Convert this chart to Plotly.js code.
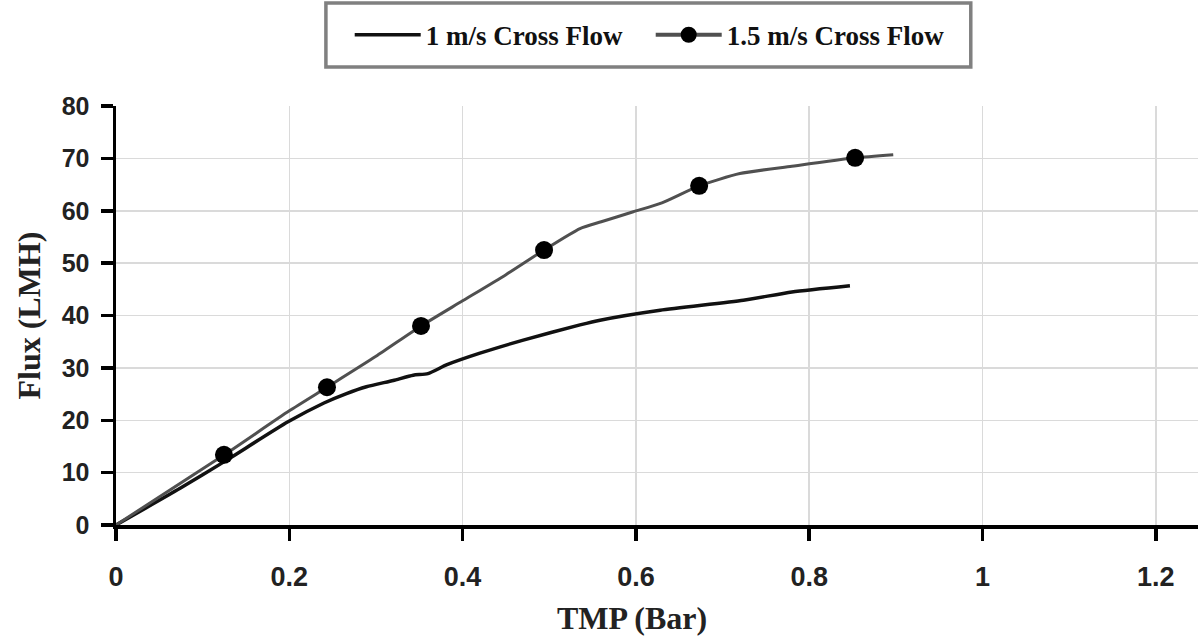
<!DOCTYPE html>
<html>
<head>
<meta charset="utf-8">
<script src="https://cdn.plot.ly/plotly-3.0.1.min.js"></script>
<style>html,body{margin:0;padding:0;background:#fff;}#chart{width:1198px;height:636px;}</style>
</head>
<body>
<div id="chart"></div>
<script>
// 1 m/s cross flow (continuous curve)
const tmp1 = [0, 0.074, 0.125, 0.1985, 0.24, 0.266, 0.289, 0.32, 0.343, 0.36, 0.382, 0.42, 0.47, 0.5355, 0.5586, 0.628, 0.724, 0.78, 0.847];
const flux1 = [0, 7.0, 12.1, 19.7, 23.3, 25.1, 26.4, 27.6, 28.6, 28.9, 30.6, 32.8, 35.3, 38.2, 39.1, 41.0, 42.9, 44.5, 45.7];

// 1.5 m/s cross flow (continuous curve)
const tmp15 = [0, 0.125, 0.2, 0.2435, 0.3, 0.352, 0.40, 0.45, 0.494, 0.5355, 0.56, 0.597, 0.63, 0.673, 0.72, 0.78, 0.853, 0.897];
const flux15 = [0, 13.4, 21.8, 26.3, 32.2, 38.0, 42.8, 47.8, 52.5, 56.6, 57.9, 59.8, 61.5, 64.75, 67.1, 68.5, 70.1, 70.7];

// 1.5 m/s cross flow measured points (markers)
const tmp15Pts = [0.1246, 0.2435, 0.352, 0.494, 0.673, 0.853];
const flux15Pts = [13.4, 26.3, 38.0, 52.5, 64.75, 70.1];

const seriesNames = ["1 m/s Cross Flow", "1.5 m/s Cross Flow"];
const xTicks = [0, 0.2, 0.4, 0.6, 0.8, 1, 1.2];
const xTickText = ["0", "0.2", "0.4", "0.6", "0.8", "1", "1.2"];
const yTicks = [0, 10, 20, 30, 40, 50, 60, 70, 80];
const xTitle = "TMP (Bar)";
const yTitle = "Flux (LMH)";

const serif = "Liberation Serif, Times New Roman, serif";
const sans = "Liberation Sans, Arial, sans-serif";

const traces = [
  {x: tmp1, y: flux1, mode: "lines", name: seriesNames[0],
   line: {color: "#111111", width: 3.5, shape: "spline", smoothing: 0.6}},
  {x: tmp15, y: flux15, mode: "lines", name: seriesNames[1], showlegend: false,
   legendgroup: "g15", line: {color: "#505050", width: 3, shape: "spline", smoothing: 0.6}},
  {x: tmp15Pts, y: flux15Pts, mode: "markers", showlegend: false, legendgroup: "g15",
   marker: {color: "#000000", size: 18}},
  {x: [null], y: [null], mode: "lines+markers", name: seriesNames[1], legendgroup: "g15",
   line: {color: "#505050", width: 4}, marker: {color: "#000000", size: 18}}
];

const layout = {
  width: 1198, height: 636,
  margin: {l: 116, r: 0, t: 106, b: 111},
  paper_bgcolor: "#ffffff", plot_bgcolor: "#ffffff",
  showlegend: true,
  legend: {orientation: "h", x: 0.216, xanchor: "left", y: 1.169, yanchor: "middle",
           font: {family: serif, size: 27, color: "#111", weight: "bold"},
           itemwidth: 66, entrywidth: 220, entrywidthmode: "pixels",
           bgcolor: "rgba(0,0,0,0)", borderwidth: 0},
  xaxis: {range: [0, 1.2487], tickvals: xTicks, ticktext: xTickText,
          showgrid: true, gridcolor: "#dadada", gridwidth: 1.5,
          showline: true, linecolor: "#000", linewidth: 3.5,
          ticks: "outside", ticklen: 12, tickwidth: 3.5, tickcolor: "#000",
          ticklabelstandoff: 13,
          tickfont: {family: sans, size: 27, color: "#222", weight: "bold"},
          zeroline: false, fixedrange: true},
  yaxis: {range: [0, 80], tickvals: yTicks,
          showgrid: true, gridcolor: "#dadada", gridwidth: 1.5,
          showline: true, linecolor: "#000", linewidth: 3.5,
          ticks: "outside", ticklen: 12, tickwidth: 3.5, tickcolor: "#000",
          ticklabelstandoff: 6,
          tickfont: {family: sans, size: 25, color: "#222", weight: "bold"},
          zeroline: false, fixedrange: true},
  shapes: [
    {type: "rect", xref: "paper", yref: "paper", x0: 0.194, x1: 0.79, y0: 1.093, y1: 1.246,
     line: {color: "#808080", width: 3.5}, fillcolor: "rgba(0,0,0,0)"}
  ],
  annotations: [
    {text: xTitle, xref: "paper", yref: "paper", x: 0.477, y: -0.222, xanchor: "center", yanchor: "middle",
     showarrow: false, font: {family: serif, size: 32, color: "#222", weight: "bold"}},
    {text: yTitle, xref: "paper", yref: "paper", x: -0.0813, y: 0.5, xanchor: "center", yanchor: "middle",
     textangle: -90, showarrow: false, font: {family: serif, size: 32, color: "#222", weight: "bold"}}
  ]
};

Plotly.newPlot("chart", traces, layout, {displayModeBar: false, staticPlot: true});
</script>
</body>
</html>
